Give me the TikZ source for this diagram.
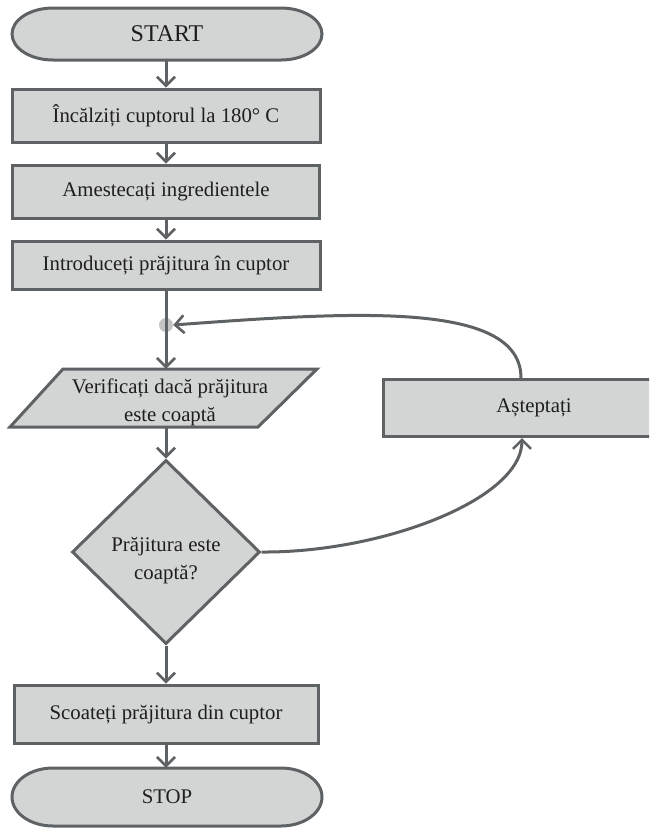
\documentclass[tikz,border=0pt]{standalone}
\usepackage{fontspec}
\setmainfont{Liberation Serif}
\usetikzlibrary{arrows.meta,shapes.geometric}
\definecolor{fillg}{HTML}{D3D4D4}
\definecolor{lineg}{HTML}{5E6264}
\definecolor{dotg}{HTML}{C4C4C4}
\definecolor{txt}{HTML}{1E1E1E}
\tikzset{
  txtfont/.style={font=\fontsize{20.8}{28}\selectfont},
  stepbox/.style={rectangle, draw=lineg, fill=fillg, line width=3pt, text=txt, txtfont, inner sep=0pt, align=center},
  termshape/.style={draw=lineg, fill=fillg, line width=3pt},
  labeltext/.style={text=txt, txtfont, inner sep=0pt, align=center},
  arr/.style={draw=lineg, line width=3pt, -{Straight Barb[length=9pt,width=18pt,line width=2.6pt]}},
}
\begin{document}
\begin{tikzpicture}[x=1pt,y=-1pt]
\useasboundingbox (0,0) rectangle (649,828);
\clip (0,0) rectangle (649,828);

% START
\path[termshape] (53,8) -- (281,8) arc[start angle=-90,end angle=90,x radius=41,y radius=26] -- (53,60) arc[start angle=90,end angle=270,x radius=41,y radius=26] -- cycle;
\node[labeltext, font=\fontsize{24}{28}\selectfont, minimum width=310, minimum height=52] (start) at (167,34) {START};

% process boxes
\node[stepbox, minimum width=308, minimum height=53] (b1) at (166,115.5) {Încălziți cuptorul la 180° C};
\node[stepbox, minimum width=307, minimum height=53] (b2) at (166,191.5) {Amestecați ingredientele};
\node[stepbox, minimum width=308, minimum height=48] (b3) at (166,265) {Introduceți prăjitura în cuptor};

% junction dot
\node[circle, fill=dotg, minimum size=14, inner sep=0pt] (dot) at (166,325) {};

% parallelogram
\path[termshape] (63,369) -- (317,369) -- (258,427) -- (10,427) -- cycle;
\node[labeltext, minimum width=200, minimum height=58] (verif) at (166,398) {};
\node[labeltext] (veriftext) at (170,402) {Verificați dacă prăjitura\\este coaptă};

% decision
\node[diamond, draw=lineg, fill=fillg, line width=3pt, minimum width=188, minimum height=184, inner sep=0pt] (dia) at (166,552) {};
\node[labeltext] (diatext) at (166,561) {Prăjitura este\\coaptă?};

% wait box (clipped at right edge)
\node[stepbox, minimum width=302, minimum height=57] (wait) at (534,408) {Așteptați};

% remove box
\node[stepbox, minimum width=304, minimum height=58] (b4) at (166,714) {Scoateți prăjitura din cuptor};

% STOP
\path[termshape] (53,768) -- (281,768) arc[start angle=-90,end angle=90,x radius=41,y radius=29] -- (53,826) arc[start angle=90,end angle=270,x radius=41,y radius=29] -- cycle;
\node[labeltext, minimum width=310, minimum height=58] (stop) at (167,797) {STOP};

% connectors
\draw[arr] (start.south -| b1.north) -- (b1.north);
\draw[arr] (b1.south) -- (b2.north);
\draw[arr] (b2.south) -- (b3.north);
\draw[arr] (b3.south) -- (verif.north);
\draw[arr] (verif.south) -- (dia.north);
\draw[arr] (dia.south) -- (b4.north);
\draw[arr] (b4.south) -- (b4.south |- stop.north);
\draw[arr] ([xshift=-13pt]wait.north) .. controls (521,300) and (350,312) .. (dot.east);
\draw[arr] (dia.east) .. controls (380,553) and (522,500) .. ([xshift=-12pt]wait.south);
\end{tikzpicture}
\end{document}
